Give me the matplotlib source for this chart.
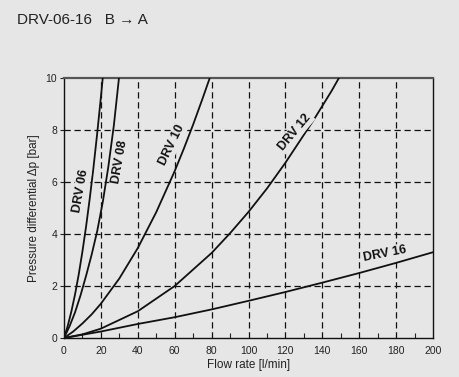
import matplotlib
matplotlib.use("Agg")
import matplotlib.pyplot as plt
from matplotlib.ticker import MultipleLocator

plt.rcParams['font.family'] = ['Liberation Sans', 'DejaVu Sans']

BG = "#e6e6e6"

# Flow rate [l/min] and pressure differential [bar]
q_drv06 = [0, 2, 4, 6, 8, 10, 12, 14, 16, 18, 20, 21]
p_drv06 = [0, 0.46, 1.02, 1.68, 2.45, 3.33, 4.30, 5.39, 6.57, 7.87, 9.26, 10.0]

q_drv08 = [0, 3, 6, 9, 12, 15, 18, 21, 24, 27, 29.8]
p_drv08 = [0, 0.45, 0.99, 1.65, 2.4, 3.21, 4.11, 5.22, 6.57, 8.16, 10.0]

q_drv10 = [0, 5, 10, 15, 20, 30, 40, 50, 60, 65, 70, 75, 79]
p_drv10 = [0, 0.25, 0.56, 0.91, 1.32, 2.29, 3.46, 4.84, 6.42, 7.29, 8.21, 9.19, 10.0]

q_drv12 = [0, 10, 20, 40, 60, 80, 90, 100, 110, 120, 135, 145, 149]
p_drv12 = [0, 0.14, 0.36, 1.03, 2.0, 3.27, 4.03, 4.85, 5.75, 6.74, 8.35, 9.5, 10.0]

q_drv16 = [0, 20, 40, 60, 80, 100, 120, 140, 160, 180, 200]
p_drv16 = [0, 0.25, 0.54, 0.8, 1.1, 1.43, 1.77, 2.13, 2.50, 2.89, 3.3]

curves = [
    ("DRV 06", q_drv06, p_drv06),
    ("DRV 08", q_drv08, p_drv08),
    ("DRV 10", q_drv10, p_drv10),
    ("DRV 12", q_drv12, p_drv12),
    ("DRV 16", q_drv16, p_drv16),
]

# label anchor (flow, pressure) and rotation
label_pos = {
    "DRV 06": (9.2, 5.65, 80),
    "DRV 08": (30.4, 6.77, 80),
    "DRV 10": (58.5, 7.42, 64),
    "DRV 12": (125.2, 7.92, 50),
    "DRV 16": (174, 3.23, 11),
}

x_ticks = [0, 20, 40, 60, 80, 100, 120, 140, 160, 180, 200]
y_ticks = [0, 2, 4, 6, 8, 10]

fig = plt.figure(figsize=(4.59, 3.77), dpi=100, facecolor=BG)
ax = fig.add_axes([0.1394, 0.1034, 0.804, 0.6897])
ax.set_facecolor(BG)

ax.set_xlim(0, 200)
ax.set_ylim(0, 10)
ax.set_xticks(x_ticks)
ax.set_yticks(y_ticks)
ax.xaxis.set_minor_locator(MultipleLocator(10))

for v in x_ticks[1:-1]:
    ax.axvline(v, color="#111111", lw=0.9, dashes=(5, 3), zorder=1)
for v in y_ticks[1:-1]:
    ax.axhline(v, color="#111111", lw=0.9, dashes=(5, 3), zorder=1)

for name, q, p in curves:
    ax.plot(q, p, color="#111111", lw=1.3, zorder=3, clip_on=True)
    lx, ly, rot = label_pos[name]
    ax.text(lx, ly, name, rotation=rot, ha="center", va="center",
            fontsize=9, fontweight="bold", color="#111111", zorder=4,
            bbox=dict(facecolor=BG, edgecolor="none", pad=1.0))

ax.tick_params(axis="x", which="major", direction="in", length=0,
               labelsize=7.5, pad=6, colors="#222222")
ax.tick_params(axis="x", which="minor", direction="in", length=3.5,
               width=0.8, colors="#222222")
ax.tick_params(axis="y", which="major", direction="out", length=3,
               labelsize=7.5, pad=2, colors="#222222")

for s in ["left", "bottom", "right"]:
    ax.spines[s].set_color("#111111")
    ax.spines[s].set_linewidth(1.0)
ax.spines["top"].set_color("#555555")
ax.spines["top"].set_linewidth(1.6)

ax.set_xlabel("Flow rate [l/min]", fontsize=8.5, color="#222222", labelpad=2)
ax.set_ylabel("Pressure differential \u0394p [bar]", fontsize=8.5,
              color="#222222", labelpad=4)

fig.text(0.037, 1 - 20 / 377, "DRV-06-16   B \u2192 A", fontsize=11,
         color="#222222", ha="left", va="center")

fig.savefig("out.png", dpi=100, facecolor=BG)
